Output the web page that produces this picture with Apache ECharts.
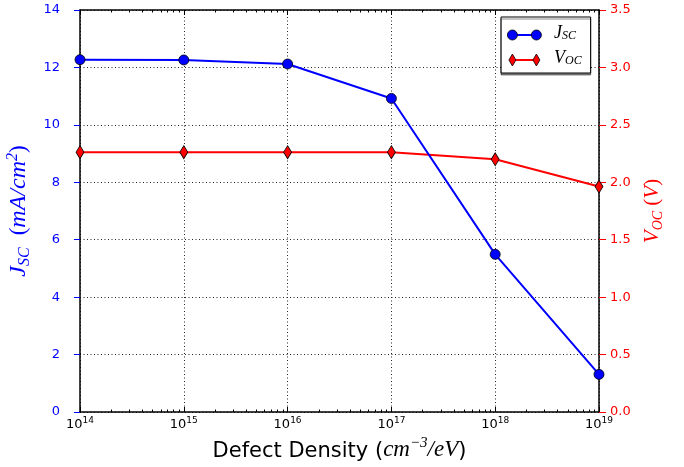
<!DOCTYPE html>
<html>
<head>
<meta charset="utf-8">
<script src="https://cdn.jsdelivr.net/npm/echarts@6/dist/echarts.min.js"></script>
<style>
html,body{margin:0;padding:0;background:#fff;}
#chart{width:684px;height:467px;}
</style>
</head>
<body>
<div id="chart"></div>
<script>
// ---- data ----
const defectDensity = [1e14, 1e15, 1e16, 1e17, 1e18, 1e19];
const jscValues = [12.27, 12.26, 12.12, 10.92, 5.49, 1.31];
const vocValues = [2.262, 2.262, 2.262, 2.262, 2.20, 1.963];
const minorTickValues = [];
for (let e = 14; e < 19; e++) {
  for (let m = 2; m <= 9; m++) minorTickValues.push(m * Math.pow(10, e));
}
const leftTicks = { min: 0, max: 14, interval: 2 };
const rightTicks = { min: 0, max: 3.5, interval: 0.5 };

const BLUE = '#0000ff', RED = '#ff0000';
const MATH = "'Liberation Serif', serif";
const SANS = "'DejaVu Sans', sans-serif";

const chart = echarts.init(document.getElementById('chart'), null, { renderer: 'canvas' });

const xLabelRich = {
  b: { fontFamily: SANS, fontSize: 13, color: '#000', lineHeight: 15, verticalAlign: 'bottom' },
  e: { fontFamily: SANS, fontSize: 9, color: '#000', lineHeight: 10, verticalAlign: 'top' }
};

const barIcon = 'path://M5 5 L29 5 L29 7 L5 7 Z M0 0 M34 12';
const circleIcon = 'path://M0 6 A5 5 0 1 1 10 6 A5 5 0 1 1 0 6 Z M24 6 A5 5 0 1 1 34 6 A5 5 0 1 1 24 6 Z M17 0 M17 12';
const diamondIcon = 'path://M5 0 L8.5 6 L5 12 L1.5 6 Z M29 0 L32.5 6 L29 12 L25.5 6 Z M0 6 M34 6';

const legendRich = {
  i: { fontFamily: MATH, fontStyle: 'italic', fontSize: 18, lineHeight: 14, verticalAlign: 'bottom' },
  s: { fontFamily: MATH, fontStyle: 'italic', fontSize: 12, lineHeight: 10, verticalAlign: 'bottom' }
};
const legendFormatter = function (name) {
  return name === 'JSC' ? '{i|J}{s|SC}' : '{i|V}{s|OC}';
};
const legendCommon = {
  orient: 'vertical',
  left: 501,
  top: 17,
  padding: [7, 9, 6, 6],
  itemWidth: 34,
  itemHeight: 12,
  itemGap: 7,
  selectedMode: false,
  formatter: legendFormatter
};

const option = {
  animation: false,
  backgroundColor: '#fff',
  grid: { left: 80, right: 85, top: 10, bottom: 55, containLabel: false, outerBoundsMode: 'none' },
  legend: [
    Object.assign({}, legendCommon, {
      z: 4,
      backgroundColor: '#fff',
      borderColor: '#000',
      borderWidth: 1,
      borderRadius: 0,
      shadowColor: 'rgba(0,0,0,0.45)',
      shadowOffsetX: 0,
      shadowOffsetY: 2,
      shadowBlur: 0,
      itemStyle: { borderWidth: 0 },
      textStyle: { color: '#000', lineHeight: 14, rich: legendRich, padding: [0, 0, 0, 8] },
      data: [{ name: 'JSC', icon: barIcon }, { name: 'VOC', icon: barIcon }]
    }),
    Object.assign({}, legendCommon, {
      z: 5,
      backgroundColor: 'transparent',
      borderWidth: 0,
      itemStyle: { borderColor: '#000', borderWidth: 0.8 },
      textStyle: { color: 'rgba(0,0,0,0)', lineHeight: 14, rich: legendRich, padding: [0, 0, 0, 8] },
      data: [{ name: 'JSC', icon: circleIcon }, { name: 'VOC', icon: diamondIcon }]
    })
  ],
  xAxis: [
    {
      type: 'log', logBase: 10, position: 'bottom',
      min: defectDensity[0], max: defectDensity[defectDensity.length - 1],
      splitNumber: 5,
      name: '{n|Defect Density }{p|(}{i|cm}{sup|−3}{i|/eV}{p|)}',
      nameLocation: 'middle', nameGap: 20,
      nameTextStyle: {
        rich: {
          n: { fontFamily: SANS, fontSize: 21, color: '#000', verticalAlign: 'bottom', lineHeight: 26 },
          p: { fontFamily: SANS, fontSize: 21, color: '#000', verticalAlign: 'bottom', lineHeight: 26 },
          i: { fontFamily: MATH, fontStyle: 'italic', fontSize: 23, color: '#000', verticalAlign: 'bottom', lineHeight: 26 },
          sup: { fontFamily: MATH, fontStyle: 'italic', fontSize: 15, color: '#000', verticalAlign: 'top', lineHeight: 14 }
        }
      },
      axisLine: { show: true, onZero: false, lineStyle: { color: '#000', width: 1.5 } },
      axisTick: { show: true, inside: true, length: 5, lineStyle: { color: '#000', width: 1 } },
      axisLabel: {
        margin: 4,
        formatter: function (v) { return '{b|10}{e|' + Math.round(Math.log10(v)) + '}'; },
        rich: xLabelRich
      },
      splitLine: { show: true, lineStyle: { color: '#222', width: 1, type: [1, 2.5] } }
    },
    {
      type: 'log', logBase: 10, position: 'bottom',
      min: defectDensity[0], max: defectDensity[defectDensity.length - 1],
      axisLine: { show: false, onZero: false },
      axisTick: { show: true, inside: true, length: 2.5, customValues: minorTickValues, lineStyle: { color: '#000', width: 1 } },
      axisLabel: { show: false },
      splitLine: { show: false }
    },
    {
      type: 'log', logBase: 10, position: 'top',
      min: defectDensity[0], max: defectDensity[defectDensity.length - 1],
      splitNumber: 5,
      axisLine: { show: true, onZero: false, lineStyle: { color: '#000', width: 1.5 } },
      axisTick: { show: true, inside: true, length: 5, lineStyle: { color: '#000', width: 1 } },
      axisLabel: { show: false },
      splitLine: { show: false }
    },
    {
      type: 'log', logBase: 10, position: 'top',
      min: defectDensity[0], max: defectDensity[defectDensity.length - 1],
      axisLine: { show: false, onZero: false },
      axisTick: { show: true, inside: true, length: 2.5, customValues: minorTickValues, lineStyle: { color: '#000', width: 1 } },
      axisLabel: { show: false },
      splitLine: { show: false }
    }
  ],
  yAxis: [
    {
      type: 'value', position: 'left',
      min: leftTicks.min, max: leftTicks.max, interval: leftTicks.interval,
      name: '{i|J}{s|SC}{i|  }{p|(}{i|mA/cm}{sup|2}{p|)}',
      nameLocation: 'middle', nameGap: 42, nameRotate: 90,
      nameTextStyle: {
        rich: {
          i: { fontFamily: MATH, fontStyle: 'italic', fontSize: 24, color: BLUE, verticalAlign: 'middle', lineHeight: 28 },
          p: { fontFamily: MATH, fontSize: 23, color: BLUE, verticalAlign: 'middle', lineHeight: 28 },
          s: { fontFamily: MATH, fontStyle: 'italic', fontSize: 16, color: BLUE, verticalAlign: 'bottom', lineHeight: 26 },
          sup: { fontFamily: MATH, fontStyle: 'italic', fontSize: 16, color: BLUE, verticalAlign: 'top', lineHeight: 24 }
        }
      },
      axisLine: { show: true, onZero: false, lineStyle: { color: '#000', width: 1.5 } },
      axisTick: { show: true, inside: false, length: 6, lineStyle: { color: BLUE, width: 1 } },
      axisLabel: { margin: 20, color: BLUE, fontFamily: SANS, fontSize: 13 },
      splitLine: { show: true, lineStyle: { color: '#222', width: 1, type: [1, 2.5] } }
    },
    {
      type: 'value', position: 'right',
      min: rightTicks.min, max: rightTicks.max, interval: rightTicks.interval,
      name: '{i|V}{s|OC}{i| }{p|(}{i|V}{p|)}',
      nameLocation: 'middle', nameGap: 34, nameRotate: 90,
      nameTextStyle: {
        rich: {
          i: { fontFamily: MATH, fontStyle: 'italic', fontSize: 21, color: RED, verticalAlign: 'middle', lineHeight: 26 },
          p: { fontFamily: MATH, fontSize: 21, color: RED, verticalAlign: 'middle', lineHeight: 26 },
          s: { fontFamily: MATH, fontStyle: 'italic', fontSize: 14, color: RED, verticalAlign: 'bottom', lineHeight: 24 }
        }
      },
      axisLine: { show: true, onZero: false, lineStyle: { color: '#000', width: 1.5 } },
      axisTick: { show: true, inside: false, length: 7, lineStyle: { color: RED, width: 1 } },
      axisLabel: { margin: 11, color: RED, fontFamily: SANS, fontSize: 13, formatter: function (v) { return v.toFixed(1); } },
      splitLine: { show: false }
    }
  ],
  series: [
    {
      name: 'VOC', type: 'line', xAxisIndex: 0, yAxisIndex: 1,
      data: defectDensity.map(function (x, i) { return [x, vocValues[i]]; }),
      symbol: 'diamond', symbolSize: [8, 13],
      lineStyle: { color: RED, width: 2 },
      itemStyle: { color: RED, borderColor: '#000', borderWidth: 0.8 },
      z: 3
    },
    {
      name: 'JSC', type: 'line', xAxisIndex: 0, yAxisIndex: 0,
      data: defectDensity.map(function (x, i) { return [x, jscValues[i]]; }),
      symbol: 'circle', symbolSize: 10,
      lineStyle: { color: BLUE, width: 2 },
      itemStyle: { color: BLUE, borderColor: '#000', borderWidth: 0.8 },
      z: 4
    }
  ]
};
chart.setOption(option);
</script>
</body>
</html>
